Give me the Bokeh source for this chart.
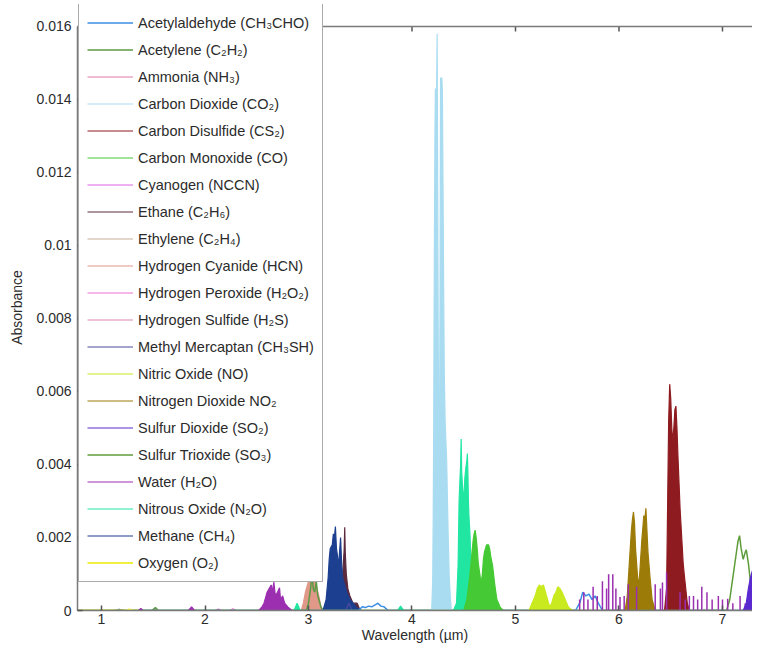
from bokeh.plotting import figure
from bokeh.models import Range1d, FixedTicker, Legend, LegendItem, Span
from bokeh.embed import file_html
from bokeh.resources import INLINE

# ---------------- axes / ticks ----------------
X_START, X_END = 0.768, 7.29
Y_START, Y_END = 0.0, 0.016
Y_VIEW_TOP = 0.0166          # a little head-room so the legend can rise above the box top
BASE_START, BASE_END = 0.77, 7.45

x_ticks = [1, 2, 3, 4, 5, 6, 7]
x_tick_labels = ["1", "2", "3", "4", "5", "6", "7"]
y_ticks = [0.0, 0.002, 0.004, 0.006, 0.008, 0.01, 0.012, 0.014, 0.016]
y_tick_labels = ["0", "0.002", "0.004", "0.006", "0.008", "0.01", "0.012", "0.014", "0.016"]

# ---------------- legend (order as in the reference) ----------------
legend_names = [
    "Acetylaldehyde (CH\u2083CHO)", "Acetylene (C\u2082H\u2082)", "Ammonia (NH\u2083)",
    "Carbon Dioxide (CO\u2082)", "Carbon Disulfide (CS\u2082)", "Carbon Monoxide (CO)",
    "Cyanogen (NCCN)", "Ethane (C\u2082H\u2086)", "Ethylene (C\u2082H\u2084)",
    "Hydrogen Cyanide (HCN)", "Hydrogen Peroxide (H\u2082O\u2082)", "Hydrogen Sulfide (H\u2082S)",
    "Methyl Mercaptan (CH\u2083SH)", "Nitric Oxide (NO)", "Nitrogen Dioxide NO\u2082",
    "Sulfur Dioxide (SO\u2082)", "Sulfur Trioxide (SO\u2083)", "Water (H\u2082O)",
    "Nitrous Oxide (N\u2082O)", "Methane (CH\u2084)", "Oxygen (O\u2082)",
]
legend_colors = [
    "#3d8ee6", "#5b9a45", "#e07aa8", "#a9dcf1", "#8e1b1f", "#45c935", "#e060e8",
    "#5c2a3e", "#c8b098", "#e09888", "#f070d8", "#e088b0", "#4b4ba0", "#c8ea1e",
    "#9c7b08", "#5a2ad0", "#5e9c3a", "#9b2fb0", "#20e6a2", "#1c3f8f", "#f0f040",
]

# ---------------- spectra (wavelength um, absorbance) ----------------
acetaldehyde_wl = [3.48, 3.52, 3.55, 3.58, 3.61, 3.64, 3.67, 3.70, 3.73, 3.77,
                   5.58, 5.62, 5.65, 5.68, 5.71, 5.74, 5.77, 5.80, 5.84]
acetaldehyde_abs = [0, 0.0001, 0.00008, 0.00012, 0.0001, 0.00015, 0.0002, 0.00012, 0.0001, 0,
                    0, 0.0002, 0.0005, 0.0004, 0.00045, 0.0003, 0.0004, 0.0002, 0]

acetylene_wl = [1.49, 1.52, 1.55, 2.98, 3.00, 3.02, 3.035, 3.045, 3.06, 3.075, 3.09, 3.10, 3.12, 3.14]
acetylene_abs = [0, 0.00008, 0, 0, 0.0002, 0.0006, 0.00105, 0.0006, 0.0005, 0.0008, 0.0004, 0.0003, 0.0001, 0]

ammonia_wl = [1.48, 1.51, 1.54, 2.95, 3.00, 3.05]
ammonia_abs = [0, 0.00004, 0, 0, 0.00005, 0]

co2_wl = [4.19, 4.200, 4.206, 4.210, 4.214, 4.218, 4.222, 4.226, 4.232, 4.238,
          4.243, 4.247, 4.252, 4.258, 4.265, 4.271, 4.276, 4.282, 4.288, 4.294,
          4.300, 4.306, 4.312, 4.320, 4.335, 4.350, 4.360, 4.370, 4.38]
co2_abs = [0, 0.0008, 0.0030, 0.0052, 0.0085, 0.0110, 0.0131, 0.0143, 0.0140, 0.0143,
           0.0158, 0.0125, 0.0085, 0.0045, 0.0040, 0.0085, 0.0146, 0.0141, 0.0146, 0.0142,
           0.0115, 0.0088, 0.0065, 0.0052, 0.0041, 0.0020, 0.0009, 0.0004, 0]

cs2_wl = [6.44, 6.46, 6.47, 6.48, 6.49, 6.50, 6.51, 6.52, 6.53, 6.54,
          6.55, 6.56, 6.57, 6.58, 6.59, 6.60, 6.62, 6.63, 6.66, 6.68]
cs2_abs = [0, 0.0006, 0.0029, 0.0052, 0.0062, 0.0058, 0.0050, 0.0046, 0.0050, 0.0055,
           0.0056, 0.0050, 0.0042, 0.0035, 0.0028, 0.0023, 0.0013, 0.0010, 0.0002, 0]

co_wl = [4.50, 4.53, 4.56, 4.58, 4.59, 4.60, 4.61, 4.62, 4.63, 4.64, 4.66, 4.67,
         4.68, 4.69, 4.70, 4.72, 4.74, 4.75, 4.76, 4.78, 4.80, 4.82, 4.85, 4.88]
co_abs = [0, 0.0003, 0.0010, 0.0016, 0.0019, 0.0021, 0.0022, 0.0020, 0.0017, 0.0013, 0.0009, 0.0008,
          0.0010, 0.0014, 0.0016, 0.0018, 0.0018, 0.0017, 0.0015, 0.0012, 0.0007, 0.0003, 0.0001, 0]

cyanogen_wl = [2.10, 2.13, 2.16]
cyanogen_abs = [0, 0.00004, 0]

ethane_wl = [3.30, 3.32, 3.335, 3.345, 3.35, 3.355, 3.365, 3.38, 3.40, 3.43, 3.47, 3.50]
ethane_abs = [0, 0.0005, 0.0012, 0.0017, 0.00228, 0.0016, 0.0010, 0.0006, 0.0004, 0.0002, 0.0002, 0]

ethylene_wl = [3.20, 3.23, 3.26]
ethylene_abs = [0, 0.00006, 0]

hcn_wl = [2.93, 2.95, 2.97, 2.99, 3.00, 3.01, 3.02, 3.03, 3.04, 3.05, 3.06, 3.08, 3.10, 3.12, 3.14]
hcn_abs = [0, 0.0002, 0.0005, 0.0007, 0.0008, 0.00094, 0.0009, 0.0008, 0.0007, 0.0008, 0.0009,
           0.0006, 0.0004, 0.0001, 0]

h2o2_wl = [2.24, 2.27, 2.30]
h2o2_abs = [0, 0.00005, 0]

h2s_wl = [2.60, 2.63, 2.66]
h2s_abs = [0, 0.00004, 0]

mercaptan_wl = [3.36, 3.39, 3.42]
mercaptan_abs = [0, 0.0002, 0]

no_wl = [5.13, 5.16, 5.19, 5.21, 5.23, 5.25, 5.27, 5.29, 5.31, 5.33,
         5.35, 5.37, 5.39, 5.41, 5.43, 5.45, 5.48, 5.51, 5.55]
no_abs = [0, 0.0002, 0.0004, 0.0006, 0.0007, 0.00065, 0.0007, 0.0005, 0.0003, 0.0001,
          0.0002, 0.0004, 0.0005, 0.00065, 0.0006, 0.0005, 0.0003, 0.0001, 0]

no2_wl = [6.06, 6.08, 6.10, 6.12, 6.13, 6.14, 6.15, 6.16, 6.18, 6.19,
          6.20, 6.22, 6.24, 6.25, 6.26, 6.27, 6.28, 6.30, 6.32, 6.35]
no2_abs = [0, 0.0004, 0.0013, 0.0022, 0.0025, 0.0027, 0.0024, 0.0017, 0.0009, 0.0007,
           0.0010, 0.0019, 0.0026, 0.0025, 0.0028, 0.0022, 0.0016, 0.0009, 0.0003, 0]

so2_wl = [7.20, 7.23, 7.25, 7.27, 7.29, 7.31, 7.33, 7.35, 7.37, 7.39, 7.41, 7.43, 7.45]
so2_abs = [0, 0.0002, 0.0006, 0.0009, 0.0011, 0.0008, 0.0010, 0.0007, 0.0009, 0.0010, 0.0008, 0.0011, 0.0009]

so3_wl = [7.04, 7.07, 7.09, 7.11, 7.13, 7.15, 7.165, 7.18, 7.20, 7.22, 7.23, 7.25, 7.27, 7.30, 7.33]
so3_abs = [0, 0.0003, 0.0007, 0.0011, 0.0015, 0.0019, 0.00205, 0.0017, 0.0014, 0.0016, 0.00166,
           0.0013, 0.0008, 0.0003, 0]

water_wl = [1.36, 1.38, 1.40, 1.84, 1.87, 1.90, 2.52, 2.55, 2.57, 2.59, 2.60, 2.62,
            2.64, 2.65, 2.665, 2.68, 2.70, 2.72, 2.73, 2.75, 2.77, 2.80, 2.84]
water_abs = [0, 0.00006, 0, 0, 0.0001, 0, 0, 0.0001, 0.0002, 0.0004, 0.0005, 0.0006,
             0.0007, 0.0005, 0.00078, 0.0004, 0.0005, 0.00062, 0.0003, 0.0004, 0.0002, 0.0001, 0]
water_line_wl = [5.62, 5.66, 5.70, 5.75, 5.79, 5.84, 5.88, 5.90, 5.94, 5.97, 6.01, 6.05,
                 6.09, 6.17, 6.35, 6.40, 6.42, 6.46, 6.59, 6.64, 6.68, 6.72, 6.76, 6.80,
                 6.85, 6.90, 6.96, 7.00, 7.05, 7.10, 7.17, 7.22, 7.30]
water_line_abs = [0.0003, 0.0005, 0.0003, 0.00065, 0.0004, 0.0008, 0.0006, 0.00099, 0.00099, 0.0006,
                  0.00037, 0.0004, 0.00072, 0.00065, 0.00072, 0.0006, 0.00077, 0.00104, 0.0005, 0.0003,
                  0.0004, 0.0004, 0.0003, 0.00065, 0.0005, 0.0003, 0.0004, 0.0003, 0.00032, 0.0002,
                  0.0004, 0.0002, 0.00024]

n2o_wl = [2.86, 2.89, 2.92, 3.86, 3.89, 3.92, 4.40, 4.43, 4.445, 4.455, 4.465, 4.470,
          4.475, 4.480, 4.490, 4.500, 4.510, 4.520, 4.530, 4.535, 4.540, 4.545, 4.550,
          4.560, 4.570, 4.580, 4.600]
n2o_abs = [0, 0.0002, 0, 0, 0.00012, 0, 0, 0.0002, 0.0012, 0.0030, 0.0037, 0.0040,
           0.0047, 0.0038, 0.0033, 0.0030, 0.0036, 0.0039, 0.0041, 0.0043, 0.0038, 0.0030, 0.0026,
           0.0021, 0.0012, 0.0003, 0]

methane_wl = [1.12, 1.17, 1.22, 3.14, 3.17, 3.19, 3.20, 3.21, 3.23, 3.24, 3.25, 3.26, 3.27,
              3.28, 3.29, 3.30, 3.31, 3.32, 3.33, 3.35, 3.37, 3.40, 3.43, 3.46, 3.50,
              7.25, 7.30, 7.35, 7.40, 7.45]
methane_abs = [0, 0.00003, 0, 0, 0.0003, 0.0009, 0.0014, 0.0017, 0.0018, 0.0021, 0.0020, 0.0023, 0.0017,
               0.0015, 0.0012, 0.0016, 0.0020, 0.0013, 0.0009, 0.0007, 0.0005, 0.0003, 0.0002, 0.0001, 0,
               0, 0.0001, 0.0002, 0.0003, 0.0003]

oxygen_wl = [0.77, 0.95, 1.06, 1.10, 1.25, 1.27, 1.29, 1.35]
oxygen_abs = [0, 0, 0, 0, 0, 0.00003, 0, 0]

# ---------------- figure ----------------
TXT = "#2b2b2b"
FONT = "Liberation Sans"
AXIS_COLOR = "#7a7a7a"
TICK_COLOR = "#555555"
TOP_TICK_LEN = 0.00014  # ~5 px inward tick on the top edge

p = figure(width=752, height=645, output_backend="svg", toolbar_location=None,
           x_range=Range1d(X_START, X_END), y_range=Range1d(Y_START, Y_VIEW_TOP),
           min_border_left=77, min_border_right=0, min_border_top=4, min_border_bottom=0)
p.grid.visible = False
p.outline_line_color = None
p.background_fill_color = "white"
p.border_fill_color = "white"

def style_axis(ax, ticks, labels):
    ax.ticker = FixedTicker(ticks=ticks)
    ax.major_label_overrides = {t: s for t, s in zip(ticks, labels)}
    ax.minor_tick_line_color = None
    ax.major_tick_in = 5
    ax.major_tick_out = 0
    ax.major_tick_line_color = TICK_COLOR
    ax.major_tick_line_width = 1.5
    ax.axis_line_color = AXIS_COLOR
    ax.axis_line_width = 1.5
    ax.major_label_text_font = FONT
    ax.major_label_text_font_size = "14px"
    ax.major_label_text_color = TXT
    ax.axis_label_text_font = FONT
    ax.axis_label_text_font_size = "14px"
    ax.axis_label_text_font_style = "normal"
    ax.axis_label_text_color = TXT

xa = p.xaxis[0]
style_axis(xa, x_ticks, x_tick_labels)
xa.major_label_standoff = 3
xa.axis_label = "Wavelength (\u00b5m)"
xa.axis_label_standoff = 0

ya = p.yaxis[0]
style_axis(ya, y_ticks, y_tick_labels)
ya.bounds = (Y_START, Y_END)
ya.major_label_standoff = 6
ya.axis_label = "Absorbance"
ya.axis_label_standoff = 8

# top frame edge with inward ticks (box axes)
p.add_layout(Span(location=Y_END, dimension="width", line_color=AXIS_COLOR, line_width=1.5))
p.segment(x0=x_ticks, y0=[Y_END] * len(x_ticks), x1=x_ticks, y1=[Y_END - TOP_TICK_LEN] * len(x_ticks),
          line_color=TICK_COLOR, line_width=1.5)

# ---------------- draw spectra ----------------
renderers = {}

def add_species(idx, wl, ab, fill=True, extend=True, width=1.2):
    name, color = legend_names[idx], legend_colors[idx]
    if len(wl) != len(ab):
        raise ValueError(name)
    if fill:
        p.varea(x=wl, y1=[0.0] * len(wl), y2=ab, fill_color=color, fill_alpha=1.0)
    xs = ([BASE_START] + list(wl) + [BASE_END]) if extend else list(wl)
    ys = ([0.0] + list(ab) + [0.0]) if extend else list(ab)
    renderers[name] = p.line(xs, ys, line_color=color, line_width=width)

add_species(2, ammonia_wl, ammonia_abs, fill=False)
add_species(6, cyanogen_wl, cyanogen_abs, fill=False)
add_species(8, ethylene_wl, ethylene_abs, fill=False)
add_species(10, h2o2_wl, h2o2_abs, fill=False)
add_species(11, h2s_wl, h2s_abs, fill=False)
add_species(9, hcn_wl, hcn_abs)
add_species(1, acetylene_wl, acetylene_abs, fill=False, width=1.5)
add_species(7, ethane_wl, ethane_abs)
add_species(19, methane_wl, methane_abs)
add_species(12, mercaptan_wl, mercaptan_abs, fill=False)
add_species(0, acetaldehyde_wl, acetaldehyde_abs, fill=False, width=1.5)
add_species(3, co2_wl, co2_abs)
add_species(18, n2o_wl, n2o_abs)
add_species(5, co_wl, co_abs)
add_species(13, no_wl, no_abs)
add_species(14, no2_wl, no2_abs)
add_species(4, cs2_wl, cs2_abs)
add_species(16, so3_wl, so3_abs, fill=False, width=1.5)
add_species(17, water_wl, water_abs)
p.segment(x0=water_line_wl, y0=[0.0] * len(water_line_wl), x1=water_line_wl, y1=water_line_abs,
          line_color=legend_colors[17], line_width=1.5)
add_species(15, so2_wl, so2_abs)
add_species(20, oxygen_wl, oxygen_abs, fill=False, extend=False, width=2)

items = [LegendItem(label=n, renderers=[renderers[n]]) for n in legend_names]
legend = Legend(items=items, location=(1, 28), orientation="vertical",
                border_line_color="#555555", border_line_width=1.5,
                background_fill_color="white", background_fill_alpha=1.0,
                label_text_font=FONT, label_text_font_size="14.5px", label_text_color=TXT,
                glyph_width=46, glyph_height=21, label_height=21, label_standoff=5,
                spacing=6, padding=8, margin=0)
p.add_layout(legend)

open("out.html", "w").write(file_html(p, INLINE))
